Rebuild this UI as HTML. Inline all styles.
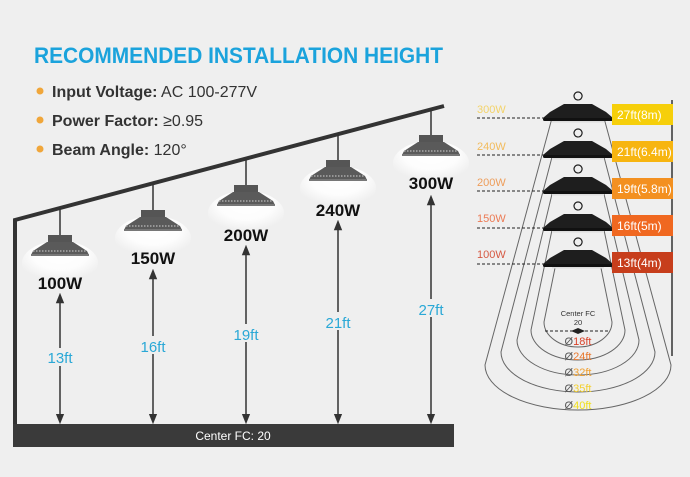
<!DOCTYPE html>
<html><head><meta charset="utf-8"><style>
html,body{margin:0;padding:0;background:#efefef;}
svg{display:block;}
text{font-family:"Liberation Sans",sans-serif;}
</style></head><body>
<svg width="690" height="477" viewBox="0 0 690 477" xmlns="http://www.w3.org/2000/svg">
<defs>
<radialGradient id="glow" cx="50%" cy="30%" r="60%">
<stop offset="0" stop-color="#ffffff" stop-opacity="1"/>
<stop offset="0.6" stop-color="#ffffff" stop-opacity="0.85"/>
<stop offset="1" stop-color="#ffffff" stop-opacity="0"/>
</radialGradient>
<marker id="ah" viewBox="0 0 10 10" refX="5" refY="5" markerWidth="7" markerHeight="7" orient="auto-start-reverse">
<path d="M0,1 L10,5 L0,9 z" fill="#333"/>
</marker>
<g id="lamp">
<ellipse cx="0" cy="28" rx="38" ry="22" fill="url(#glow)"/>
<rect x="-12" y="0" width="24" height="8" fill="#555"/>
<path d="M-13,7 L13,7 L27,16 L29,20 L-29,20 L-27,16 Z" fill="#5a5a5a"/>
<path d="M-27,16 L27,16" stroke="#aaa" stroke-width="1.5" stroke-dasharray="1.5,1.5"/>
<rect x="-29" y="19" width="58" height="2" fill="#777"/>
</g>
<g id="rlamp">
<path d="M0,-18 a4,4 0 1 1 0.1,0" fill="none" stroke="#222" stroke-width="1.2"/>
<path d="M-14,-14 L14,-14 L28,-6 L35,0 L-35,0 L-28,-6 Z" fill="#1e1e1e"/>
<rect x="-35" y="0" width="70" height="3" rx="1.5" fill="#111"/>
<rect x="-26" y="3" width="52" height="1.5" fill="#ddd"/>
</g>
</defs>

<text x="34" y="63" font-size="22" font-weight="bold" fill="#1ba3dc" textLength="409" lengthAdjust="spacingAndGlyphs">RECOMMENDED INSTALLATION HEIGHT</text>
<circle cx="40" cy="91" r="3.5" fill="#f0a63a"/>
<circle cx="40" cy="120" r="3.5" fill="#f0a63a"/>
<circle cx="40" cy="149" r="3.5" fill="#f0a63a"/>
<text x="52" y="97" font-size="16" fill="#333"><tspan font-weight="bold">Input Voltage:</tspan> AC 100-277V</text>
<text x="52" y="126" font-size="16" fill="#333"><tspan font-weight="bold">Power Factor:</tspan> ≥0.95</text>
<text x="52" y="155" font-size="16" fill="#333"><tspan font-weight="bold">Beam Angle:</tspan> 120°</text>

<path d="M15,424 L15,220 L444,106" fill="none" stroke="#333" stroke-width="4"/>
<rect x="13" y="424" width="441" height="23" fill="#3a3a3a"/>
<text x="233" y="440" font-size="12" fill="#fff" text-anchor="middle">Center FC: 20</text>

<g stroke="#333" stroke-width="1.5">
<line x1="60" y1="208" x2="60" y2="235"/>
<line x1="153" y1="183" x2="153" y2="210"/>
<line x1="246" y1="159" x2="246" y2="185"/>
<line x1="338" y1="134" x2="338" y2="160"/>
<line x1="431" y1="109" x2="431" y2="135"/>
</g>
<use href="#lamp" x="60" y="235"/>
<use href="#lamp" x="153" y="210"/>
<use href="#lamp" x="246" y="185"/>
<use href="#lamp" x="338" y="160"/>
<use href="#lamp" x="431" y="135"/>

<g font-size="17" font-weight="bold" fill="#111" text-anchor="middle">
<text x="60" y="289">100W</text>
<text x="153" y="264">150W</text>
<text x="246" y="241">200W</text>
<text x="338" y="216">240W</text>
<text x="431" y="189">300W</text>
</g>

<g stroke="#333" stroke-width="1.5" marker-start="url(#ah)" marker-end="url(#ah)">
<line x1="60" y1="298" x2="60" y2="419"/>
<line x1="153" y1="274" x2="153" y2="419"/>
<line x1="246" y1="250" x2="246" y2="419"/>
<line x1="338" y1="225" x2="338" y2="419"/>
<line x1="431" y1="200" x2="431" y2="419"/>
</g>
<g font-size="15" fill="#2aa8d6" text-anchor="middle">
<rect x="44" y="348" width="32" height="18" fill="#efefef"/><text x="60" y="363">13ft</text>
<rect x="137" y="336" width="32" height="18" fill="#efefef"/><text x="153" y="352">16ft</text>
<rect x="230" y="324" width="32" height="18" fill="#efefef"/><text x="246" y="340">19ft</text>
<rect x="322" y="312" width="32" height="18" fill="#efefef"/><text x="338" y="328">21ft</text>
<rect x="415" y="299" width="32" height="18" fill="#efefef"/><text x="431" y="315">27ft</text>
</g>

<g fill="none" stroke="#666" stroke-width="1">
<path d="M552,118 L485,365 A93,45 0 0 0 671,365 L604,118"/>
<path d="M552,157 L501,352 A77,40 0 0 0 655,352 L604,157"/>
<path d="M552,194 L517,340 A61,35 0 0 0 639,340 L604,194"/>
<path d="M552,230 L531,330 A47,30 0 0 0 625,330 L604,230"/>
<path d="M555,268 L544,322 A34,25 0 0 0 612,322 L601,268"/>
</g>
<line x1="672" y1="100" x2="672" y2="356" stroke="#333" stroke-width="1.5"/>

<g stroke="#222" stroke-width="1" stroke-dasharray="3,2">
<line x1="477" y1="118" x2="545" y2="118"/>
<line x1="477" y1="155" x2="545" y2="155"/>
<line x1="477" y1="191" x2="545" y2="191"/>
<line x1="477" y1="228" x2="545" y2="228"/>
<line x1="477" y1="264" x2="545" y2="264"/>
<line x1="545" y1="331" x2="610" y2="331"/>
</g>
<path d="M571,331 L578,328 L585,331 L578,334 Z" fill="#222"/>

<use href="#rlamp" x="578" y="118"/>
<use href="#rlamp" x="578" y="155"/>
<use href="#rlamp" x="578" y="191"/>
<use href="#rlamp" x="578" y="228"/>
<use href="#rlamp" x="578" y="264"/>

<g font-size="11">
<text x="477" y="113" fill="#f3d36a">300W</text>
<text x="477" y="150" fill="#f2bb5c">240W</text>
<text x="477" y="186" fill="#ee9d5a">200W</text>
<text x="477" y="222" fill="#ec7b55">150W</text>
<text x="477" y="258" fill="#d65a44">100W</text>
</g>

<rect x="612" y="104" width="61" height="21" fill="#f6cf0a"/>
<rect x="612" y="141" width="61" height="21" fill="#f7b510"/>
<rect x="612" y="178" width="61" height="21" fill="#f39020"/>
<rect x="612" y="215" width="61" height="21" fill="#f06820"/>
<rect x="612" y="252" width="61" height="21" fill="#c73e1c"/>
<g font-size="12" fill="#fff">
<text x="617" y="119">27ft(8m)</text>
<text x="617" y="156">21ft(6.4m)</text>
<text x="617" y="193">19ft(5.8m)</text>
<text x="617" y="230">16ft(5m)</text>
<text x="617" y="267">13ft(4m)</text>
</g>

<text x="578" y="316" font-size="7.5" fill="#333" text-anchor="middle">Center FC</text>
<text x="578" y="325" font-size="7.5" fill="#333" text-anchor="middle">20</text>
<g font-size="11" text-anchor="middle">
<text x="578" y="345"><tspan fill="#555">Ø</tspan><tspan fill="#d9432a">18ft</tspan></text>
<text x="578" y="360"><tspan fill="#555">Ø</tspan><tspan fill="#e8782e">24ft</tspan></text>
<text x="578" y="376"><tspan fill="#555">Ø</tspan><tspan fill="#f0a030">32ft</tspan></text>
<text x="578" y="392"><tspan fill="#555">Ø</tspan><tspan fill="#f3d030">35ft</tspan></text>
<text x="578" y="409"><tspan fill="#555">Ø</tspan><tspan fill="#f0df1a">40ft</tspan></text>
</g>
</svg>
</body></html>
